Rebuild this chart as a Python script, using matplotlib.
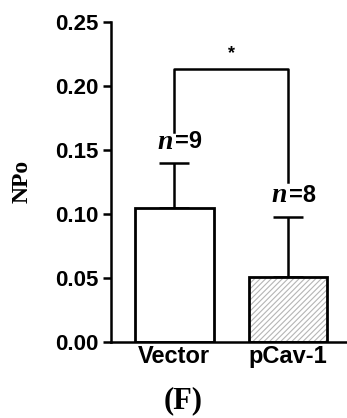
import numpy as np
import matplotlib.pyplot as plt

# dados
grupos = ['Vector', 'pCav-1']
npo_media = [0.105, 0.051]
npo_erro = [0.035, 0.047]
n_amostras = [9, 8]
hachuras = ['', '//////']

plt.rcParams['hatch.linewidth'] = 0.8

fig = plt.figure(figsize=(3.47, 4.18), dpi=100)
ax = fig.add_axes([0.320, 0.182, 0.680, 0.765])

pos = np.arange(len(grupos))
# hachura cinza primeiro, depois a borda preta por cima
ax.bar(pos, npo_media, width=0.69, color='white', edgecolor='#b5b5b5',
       hatch=hachuras, linewidth=0, zorder=2)
ax.bar(pos, npo_media, width=0.69, color='none', edgecolor='black',
       linewidth=2.0, zorder=3)

ax.errorbar(pos, npo_media, yerr=[np.zeros(len(pos)), npo_erro], fmt='none',
            ecolor='black', elinewidth=1.8, capsize=11, capthick=1.8, zorder=1)

# rótulos n=...
for x, m, e, n in zip(pos, npo_media, npo_erro, n_amostras):
    topo = m + e
    ax.annotate('n', (x, topo), xytext=(-1, 6), textcoords='offset points',
                ha='right', va='bottom', family='Liberation Serif',
                style='italic', weight='bold', fontsize=20)
    ax.annotate('=%d' % n, (x, topo), xytext=(0.5, 7), textcoords='offset points',
                ha='left', va='bottom', family='Liberation Sans',
                weight='bold', fontsize=17)

# colchete de significância
y_colchete = 0.213
ax.plot([pos[0], pos[0], pos[1], pos[1]], [0.164, y_colchete, y_colchete, 0.125],
        color='black', linewidth=1.8)
ax.text((pos[0] + pos[1]) / 2, y_colchete + 0.006, '*', ha='center', va='bottom',
        fontsize=13, family='Liberation Sans', weight='bold')

ax.set_xlim(-0.557, 1.52)
ax.set_ylim(0, 0.25)
ax.set_yticks([0.00, 0.05, 0.10, 0.15, 0.20, 0.25])
ax.set_yticklabels(['%.2f' % v for v in ax.get_yticks()])
ax.set_xticks(pos)
ax.set_xticklabels(grupos)

for lado in ['top', 'right']:
    ax.spines[lado].set_visible(False)
ax.spines['left'].set_linewidth(1.8)
ax.spines['bottom'].set_linewidth(1.8)
ax.tick_params(axis='y', direction='out', length=6, width=1.8, pad=3)
ax.tick_params(axis='x', length=0, pad=2)
for lbl in ax.get_yticklabels():
    lbl.set_family('Liberation Sans')
    lbl.set_weight('bold')
    lbl.set_fontsize(16)
for lbl in ax.get_xticklabels():
    lbl.set_family('Liberation Sans')
    lbl.set_weight('bold')
    lbl.set_fontsize(17)

fig.text(22 / 347, 1 - 181 / 418, 'NPo', rotation=90, ha='center', va='center',
         family='Liberation Serif', weight='bold', fontsize=17)
fig.text(183 / 347, 1 - 401 / 418, '(F)', ha='center', va='center',
         family='Liberation Serif', weight='bold', fontsize=22)

fig.savefig('out.png', dpi=100)
